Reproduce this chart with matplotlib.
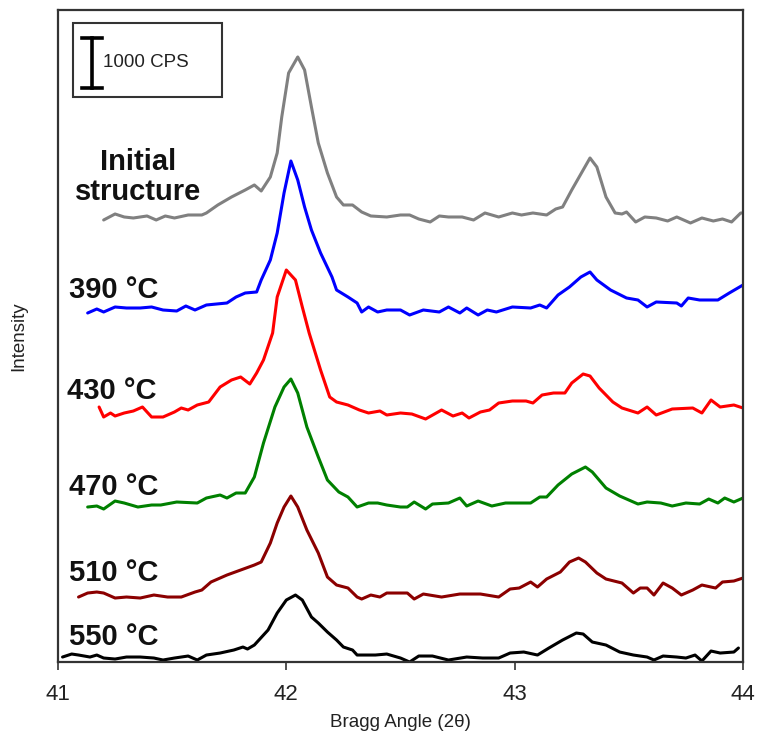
import matplotlib

matplotlib.use("Agg")
import matplotlib.pyplot as plt
from matplotlib.patches import Rectangle

plt.rcParams["font.family"] = ["Liberation Sans", "DejaVu Sans"]

# XRD scans around the (111) reflection, intensity in CPS above each scan's background
initial_2theta = [41.20, 41.25, 41.29, 41.33, 41.39, 41.43, 41.47, 41.51, 41.57, 41.63, 41.65,
                  41.70, 41.76, 41.82, 41.86, 41.89, 41.93, 41.96, 41.98, 42.01, 42.05, 42.08,
                  42.11, 42.14, 42.18, 42.22, 42.25, 42.29, 42.33, 42.37, 42.44, 42.50, 42.54,
                  42.58, 42.63, 42.67, 42.71, 42.77, 42.82, 42.87, 42.93, 42.99, 43.03, 43.08,
                  43.14, 43.18, 43.21, 43.25, 43.30, 43.33, 43.36, 43.40, 43.44, 43.47, 43.49,
                  43.53, 43.57, 43.62, 43.67, 43.71, 43.77, 43.82, 43.87, 43.91, 43.95, 43.99,
                  44.00]
initial_cps = [40, 160, 100, 80, 120, 40, 120, 80, 140, 140, 180,
               340, 500, 640, 740, 620, 900, 1380, 2100, 2980, 3300, 3040,
               2300, 1580, 980, 500, 340, 340, 200, 120, 100, 140, 140,
               60, 0, 120, 100, 100, 40, 180, 100, 180, 140, 180,
               140, 260, 300, 640, 1040, 1280, 1100, 500, 180, 160, 200,
               0, 100, 80, 20, 100, -20, 80, 20, 60, 0, 180,
               180]

t390_2theta = [41.13, 41.17, 41.20, 41.25, 41.30, 41.36, 41.41, 41.46, 41.52, 41.56, 41.60,
               41.65, 41.74, 41.78, 41.82, 41.87, 41.89, 41.93, 41.96, 41.99, 42.02, 42.05,
               42.08, 42.11, 42.15, 42.20, 42.22, 42.27, 42.31, 42.33, 42.36, 42.40, 42.44,
               42.50, 42.54, 42.60, 42.67, 42.71, 42.76, 42.79, 42.84, 42.88, 42.92, 42.99,
               43.07, 43.11, 43.14, 43.19, 43.24, 43.29, 43.33, 43.36, 43.42, 43.49, 43.54,
               43.58, 43.62, 43.71, 43.73, 43.76, 43.81, 43.89, 43.94, 44.00]
t390_cps = [-20, 60, 0, 100, 80, 80, 100, 40, 20, 120, 40,
            140, 180, 300, 380, 400, 640, 1040, 1580, 2380, 3020, 2640,
            2100, 1640, 1180, 700, 440, 300, 180, 0, 100, 0, 40,
            40, -60, 40, 0, 100, -20, 80, -60, 40, 0, 100,
            80, 140, 80, 340, 500, 700, 800, 640, 440, 280, 240,
            100, 200, 180, 120, 280, 240, 240, 380, 540]

t430_2theta = [41.18, 41.20, 41.23, 41.25, 41.29, 41.33, 41.37, 41.41, 41.46, 41.51, 41.54,
               41.57, 41.61, 41.66, 41.71, 41.76, 41.80, 41.84, 41.87, 41.90, 41.94, 41.96,
               42.00, 42.04, 42.07, 42.10, 42.15, 42.19, 42.22, 42.27, 42.32, 42.36, 42.41,
               42.44, 42.50, 42.55, 42.61, 42.68, 42.73, 42.77, 42.80, 42.85, 42.89, 42.93,
               42.99, 43.05, 43.08, 43.12, 43.17, 43.22, 43.25, 43.30, 43.33, 43.37, 43.43,
               43.47, 43.54, 43.58, 43.62, 43.69, 43.78, 43.82, 43.86, 43.90, 43.96, 44.00]
t430_cps = [160, -40, 40, -20, 40, 80, 160, -40, -40, 60, 140,
            100, 200, 260, 560, 700, 760, 620, 840, 1100, 1640, 2360,
            2900, 2700, 2160, 1640, 900, 360, 260, 200, 100, 40, 80,
            0, 40, 20, -80, 100, -20, 40, -60, 60, 100, 240,
            280, 280, 240, 400, 440, 440, 640, 820, 780, 540, 260,
            140, 40, 160, 0, 120, 140, 40, 300, 160, 200, 140]

t470_2theta = [41.13, 41.17, 41.20, 41.25, 41.29, 41.35, 41.41, 41.45, 41.52, 41.61, 41.65,
               41.71, 41.74, 41.78, 41.82, 41.86, 41.90, 41.95, 41.99, 42.02, 42.05, 42.09,
               42.14, 42.18, 42.23, 42.27, 42.31, 42.36, 42.40, 42.44, 42.50, 42.53, 42.56,
               42.61, 42.64, 42.71, 42.76, 42.79, 42.84, 42.90, 42.96, 43.07, 43.11, 43.14,
               43.19, 43.25, 43.31, 43.34, 43.40, 43.46, 43.54, 43.58, 43.64, 43.69, 43.75,
               43.81, 43.85, 43.89, 43.92, 43.96, 44.00]
t470_cps = [-40, -20, -80, 80, 40, -40, 0, 0, 60, 40, 140,
            200, 140, 240, 240, 560, 1240, 1960, 2360, 2520, 2240, 1560,
            960, 500, 260, 160, -40, 40, 40, 0, -40, -40, 60,
            -80, 20, 40, 140, -20, 80, -20, 40, 40, 160, 160,
            400, 620, 760, 660, 340, 180, 20, 60, 40, -20, 40,
            20, 120, 40, 140, 60, 140]

t510_2theta = [41.09, 41.13, 41.17, 41.20, 41.25, 41.30, 41.36, 41.42, 41.48, 41.54, 41.60,
               41.63, 41.67, 41.71, 41.74, 41.80, 41.86, 41.89, 41.93, 41.96, 41.99, 42.02,
               42.05, 42.09, 42.14, 42.18, 42.22, 42.27, 42.31, 42.33, 42.37, 42.41, 42.44,
               42.50, 42.53, 42.56, 42.60, 42.68, 42.76, 42.85, 42.93, 42.98, 43.02, 43.07,
               43.10, 43.14, 43.20, 43.24, 43.28, 43.31, 43.36, 43.40, 43.47, 43.52, 43.55,
               43.58, 43.61, 43.65, 43.69, 43.73, 43.78, 43.82, 43.88, 43.91, 43.96, 44.00]
t510_cps = [-20, 60, 80, 60, -40, -20, -40, 20, -20, -20, 80,
            120, 280, 360, 420, 520, 620, 680, 1060, 1460, 1780, 2000,
            1780, 1320, 860, 380, 220, 160, -20, -60, 20, -20, 60,
            60, 60, -60, 40, -20, 40, 40, -20, 140, 160, 280,
            180, 340, 480, 680, 760, 680, 460, 340, 260, 60, 160,
            160, 20, 260, 160, 20, 120, 220, 160, 280, 300, 360]

t550_2theta = [41.02, 41.06, 41.09, 41.14, 41.17, 41.20, 41.25, 41.30, 41.36, 41.42, 41.46,
               41.51, 41.57, 41.61, 41.65, 41.71, 41.77, 41.81, 41.83, 41.86, 41.92, 41.96,
               42.00, 42.04, 42.07, 42.11, 42.14, 42.18, 42.22, 42.25, 42.29, 42.31, 42.39,
               42.44, 42.50, 42.54, 42.58, 42.64, 42.71, 42.79, 42.86, 42.93, 42.98, 43.04,
               43.10, 43.15, 43.21, 43.27, 43.30, 43.34, 43.40, 43.46, 43.52, 43.58, 43.61,
               43.65, 43.71, 43.75, 43.79, 43.82, 43.86, 43.90, 43.96, 43.98]
t550_cps = [20, 80, 60, 20, 60, 0, -20, 20, 20, 0, -40,
            0, 40, -40, 60, 100, 160, 220, 180, 260, 560, 900,
            1160, 1260, 1160, 820, 700, 520, 360, 220, 160, 60, 60,
            80, 0, -80, 40, 40, -40, 20, 0, 0, 100, 120,
            60, 200, 360, 500, 480, 320, 260, 120, 60, 20, -40,
            40, 20, 0, 60, -60, 140, 100, 120, 200]

series_2theta = [initial_2theta, t390_2theta, t430_2theta, t470_2theta, t510_2theta, t550_2theta]
series_cps = [initial_cps, t390_cps, t430_cps, t470_cps, t510_cps, t550_cps]
series_labels = ["Initial\nstructure", "390 °C", "430 °C", "470 °C", "510 °C", "550 °C"]
series_colors = ["#808080", "#0000ff", "#ff0000", "#008000", "#8b0000", "#000000"]

# vertical stacking of the scans (CPS)
offsets = [8800, 7000, 4940, 3140, 1320, 80]
label_pos = [(41.35, 9700, "center"), (41.05, 7440, "left"), (41.04, 5420, "left"),
             (41.05, 3500, "left"), (41.05, 1780, "left"), (41.05, 500, "left")]

fig = plt.figure(figsize=(7.57, 7.5), dpi=100)
ax = fig.add_axes([0.0766, 0.1173, 0.9049, 0.8694])

for tt, cps, off, col in zip(series_2theta, series_cps, offsets, series_colors):
    ax.plot(tt, [c + off for c in cps], color=col, lw=2.2,
            solid_joinstyle="round", solid_capstyle="round")

for lab, (lx, ly, ha) in zip(series_labels, label_pos):
    ax.text(lx, ly, lab, fontsize=21, fontweight="bold", ha=ha, va="center",
            linespacing=1.1, color="#111111")

ax.set_xlim(41, 44)
ax.set_ylim(0, 13040)
ax.set_xticks([41, 42, 43, 44])
ax.set_yticks([])
ax.tick_params(axis="x", direction="out", length=6, width=1.2, labelsize=16,
               pad=10, colors="#333333", labelcolor="#222222")
for sp in ax.spines.values():
    sp.set_color("#333333")
    sp.set_linewidth(1.6)

ax.set_xlabel("Bragg Angle (2θ)", fontsize=13.5, labelpad=6, color="#222222")
ax.set_ylabel("Intensity", fontsize=13.5, labelpad=22, color="#222222")

# 1000 CPS scale bar inside a framed box
ax.add_patch(Rectangle((0.022, 0.867), 0.217, 0.113, transform=ax.transAxes,
                       fill=False, edgecolor="#333333", lw=1.5))
bar_x = 41.15
bar_lo, bar_hi = 11480, 12480
ax.plot([bar_x, bar_x], [bar_lo, bar_hi], color="black", lw=2.6)
ax.plot([bar_x - 0.043, bar_x + 0.043], [bar_lo, bar_lo], color="black", lw=2.6)
ax.plot([bar_x - 0.043, bar_x + 0.043], [bar_hi, bar_hi], color="black", lw=2.6)
ax.text(bar_x + 0.045, (bar_lo + bar_hi) / 2, "1000 CPS", fontsize=13.5,
        ha="left", va="center", color="#222222")

fig.savefig("out.png", dpi=100)
